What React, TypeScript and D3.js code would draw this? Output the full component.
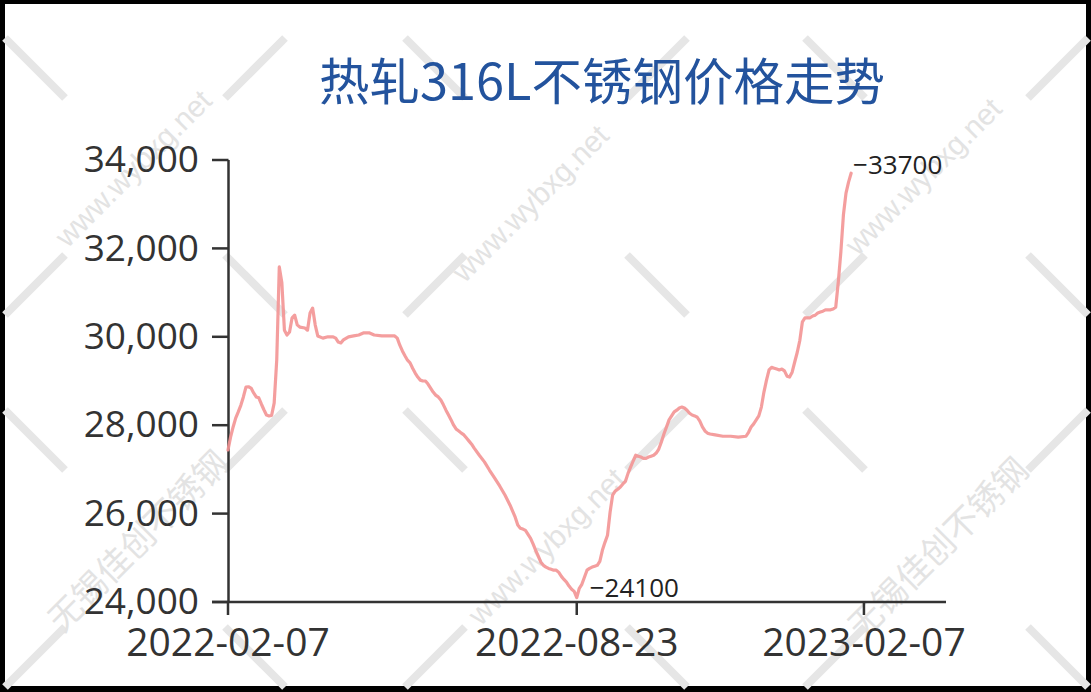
import React from 'react';
import * as d3 from 'd3';

const TITLE = '热轧316L不锈钢价格走势';
const xTickIndex = [0, 136, 248];
const xTickLabels = ['2022-02-07', '2022-08-23', '2023-02-07'];
const yTicks = [24000, 26000, 28000, 30000, 32000, 34000];

// trading-day index (0 = 2022-02-07)
const dayIndex = [
  0, 1, 2, 3, 4, 5, 6, 7, 8, 9, 10, 11, 12, 13, 14, 15, 16, 17, 18, 19, 20, 21, 22, 23, 24, 25, 26, 27, 28, 30,
  31, 32, 33, 34, 35, 37, 39, 41, 42, 43, 44, 45, 47, 49, 51, 53, 55, 57, 60, 65, 66, 67, 68, 69, 70, 71, 72, 73,
  74, 75, 76, 77, 78, 79, 80, 81, 82, 83, 84, 85, 86, 87, 88, 89, 90, 91, 92, 93, 94, 95, 96, 98, 100, 102, 104,
  106, 108, 110, 112, 113, 114, 115, 116, 117, 118, 119, 120, 121, 122, 123, 124, 125, 126, 127, 128, 129, 130,
  131, 132, 133, 134, 135, 136, 137, 138, 139, 140, 141, 142, 143, 144, 145, 146, 147, 148, 149, 150, 151, 152,
  153, 154, 155, 156, 157, 158, 159, 160, 161, 162, 163, 164, 165, 166, 167, 168, 169, 170, 171, 172, 173, 174,
  175, 176, 177, 178, 179, 180, 181, 182, 183, 184, 185, 186, 187, 188, 190, 193, 196, 199, 202, 203, 204, 205,
  206, 207, 208, 209, 210, 211, 212, 213, 214, 215, 216, 217, 218, 219, 220, 221, 222, 223, 224, 225, 226, 227,
  228, 229, 230, 231, 232, 233, 234, 235, 236, 237, 238, 239, 240, 241, 242, 243,
];

const price = [
  27440, 27730, 27960, 28160, 28300, 28450, 28640, 28860, 28870, 28840, 28730, 28640, 28620, 28480, 28350, 28230,
  28210, 28220, 28500, 29470, 31580, 31220, 30150, 30040, 30110, 30430, 30490, 30270, 30220, 30200,
  30150, 30540, 30650, 30270, 30020, 29970, 30000, 30000, 29970, 29880, 29860, 29930, 30000, 30020, 30040, 30090,
  30090, 30040, 30020, 30020, 29970, 29810, 29680, 29570, 29470, 29410, 29290, 29180,
  29090, 29020, 29000, 29000, 28930, 28840, 28750, 28680, 28640, 28570, 28460, 28340, 28230, 28120, 28000, 27910,
  27870, 27820, 27780, 27710, 27640, 27570, 27480, 27320, 27170, 26980, 26800,
  26620, 26420, 26190, 25920, 25740, 25670, 25650, 25620, 25530, 25440, 25310, 25170, 25040, 24900, 24830, 24790,
  24760, 24740, 24720, 24720, 24670, 24580,
  24510, 24450, 24360, 24290, 24240, 24100, 24310, 24400, 24560, 24720, 24760, 24790, 24810, 24830, 24920, 25170,
  25350, 25510, 26030, 26420, 26510, 26550,
  26600, 26670, 26730, 26910, 27050, 27190, 27320, 27300, 27280, 27250, 27250, 27280, 27300, 27320, 27370, 27460,
  27620, 27800, 27960, 28120, 28210, 28300,
  28340, 28390, 28410, 28390, 28340, 28270, 28230, 28210, 28180, 28090, 27960, 27870, 27820, 27800, 27780, 27750,
  27750, 27730, 27750, 27840, 27960, 28030,
  28120, 28210, 28410, 28750, 29020, 29250, 29310, 29290, 29270, 29250, 29270, 29230, 29110, 29090, 29200, 29430,
  29650, 29920, 30340, 30430, 30430, 30430,
  30470, 30490, 30540, 30560, 30580, 30610, 30610, 30610, 30630, 30670, 31240, 31920, 32760, 33250, 33500, 33700,
];

const WATERMARK_URL = 'www.wybxg.net';
const WATERMARK_CN = '无锡佳创不锈钢';

const W = 1091;
const H = 692;

export default function App() {
  const x = d3.scaleLinear().domain([0, 280]).range([228, 946]);
  const y = d3.scaleLinear().domain([24000, 34000]).range([602, 160]);
  const idx = d3.range(price.length);
  const line = d3
    .line<number>()
    .x((i) => x(dayIndex[i]))
    .y((i) => y(price[i]));

  const maxI = d3.maxIndex(price);
  const minI = d3.minIndex(price);
  const fmt = d3.format(',');

  // watermark decoration grid
  const colA = [35, 435, 835];
  const colB = [255, 657, 1058];
  const rowA = [68, 440];
  const rowB = [285, 657];
  const segs: { cx: number; cy: number; dir: number }[] = [];
  rowA.forEach((ry) => {
    colA.forEach((cx) => segs.push({ cx, cy: ry, dir: 1 }));
    colB.forEach((cx) => segs.push({ cx, cy: ry, dir: -1 }));
  });
  rowB.forEach((ry) => {
    colA.forEach((cx) => segs.push({ cx, cy: ry, dir: -1 }));
    colB.forEach((cx) => segs.push({ cx, cy: ry, dir: 1 }));
  });
  const wmTexts = [
    { t: WATERMARK_URL, cx: 135, cy: 170 },
    { t: WATERMARK_URL, cx: 532, cy: 205 },
    { t: WATERMARK_URL, cx: 925, cy: 178 },
    { t: WATERMARK_CN, cx: 140, cy: 543 },
    { t: WATERMARK_URL, cx: 548, cy: 548 },
    { t: WATERMARK_CN, cx: 940, cy: 550 },
  ];

  const axisColor = '#333';
  const numFont = "'Open Sans', 'Noto Sans', sans-serif";

  return (
    <div style={{ position: 'absolute', left: 0, top: 0 }}>
      <svg width={W} height={H} style={{ display: 'block' }}>
        <rect x={0} y={0} width={W} height={H} fill="#000" />
        <rect x={5} y={4} width={W - 10} height={H - 10} fill="#fff" />

        {/* watermark */}
        <g>
          {segs.map((s, k) => (
            <line
              key={'s' + k}
              x1={s.cx - 30}
              y1={s.cy - 30 * s.dir}
              x2={s.cx + 30}
              y2={s.cy + 30 * s.dir}
              stroke="#e6e6e6"
              strokeWidth={8}
            />
          ))}
          {wmTexts.map((w, k) => (
            <text
              key={'w' + k}
              x={w.cx}
              y={w.cy}
              transform={`rotate(-45 ${w.cx} ${w.cy})`}
              textAnchor="middle"
              dominantBaseline="middle"
              fill="#e3e3e3"
              fontSize={w.t === WATERMARK_CN ? 34 : 30}
              fontFamily={w.t === WATERMARK_CN ? "'Noto Sans CJK SC', sans-serif" : "'Liberation Sans', Arial, sans-serif"}
            >
              {w.t}
            </text>
          ))}
        </g>

        {/* title */}
        <text
          x={602}
          y={100}
          textAnchor="middle"
          fill="#23539d"
          fontSize={50.5}
          fontFamily="'Noto Sans CJK SC', sans-serif"
        >
          {TITLE}
        </text>

        {/* y axis */}
        <line x1={228.5} y1={y(34000)} x2={228.5} y2={602} stroke={axisColor} strokeWidth={2.5} />
        {yTicks.map((t) => (
          <g key={t}>
            <line x1={212} y1={y(t)} x2={228.5} y2={y(t)} stroke={axisColor} strokeWidth={2.5} />
            <text
              x={199}
              y={y(t)}
              dy="0.33em"
              textAnchor="end"
              fill={axisColor}
              fontSize={37}
              fontFamily={numFont}
            >
              {fmt(t)}
            </text>
          </g>
        ))}

        {/* x axis */}
        <line x1={212} y1={602} x2={946} y2={602} stroke={axisColor} strokeWidth={2.5} />
        {xTickIndex.map((t, k) => (
          <g key={t}>
            <line x1={x(t)} y1={602} x2={x(t)} y2={615} stroke={axisColor} strokeWidth={2.5} />
            <text
              x={x(t)}
              y={656}
              textAnchor="middle"
              fill={axisColor}
              fontSize={39}
              fontFamily={numFont}
            >
              {xTickLabels[k]}
            </text>
          </g>
        ))}

        {/* series */}
        <path
          d={line(idx) || ''}
          fill="none"
          stroke="#f39494"
          strokeWidth={3.2}
          strokeOpacity={0.9}
          strokeLinejoin="round"
          strokeLinecap="round"
        />

        {/* extreme labels */}
        <text
          x={x(dayIndex[maxI]) + 2}
          y={y(price[maxI]) - 6}
          dominantBaseline="middle"
          fill="#222"
          fontSize={26}
          fontFamily={numFont}
        >
          {'\u2212' + price[maxI]}
        </text>
        <text
          x={x(dayIndex[minI]) + 13}
          y={y(price[minI]) - 8}
          dominantBaseline="middle"
          fill="#222"
          fontSize={26}
          fontFamily={numFont}
        >
          {'\u2212' + price[minI]}
        </text>
      </svg>
    </div>
  );
}
